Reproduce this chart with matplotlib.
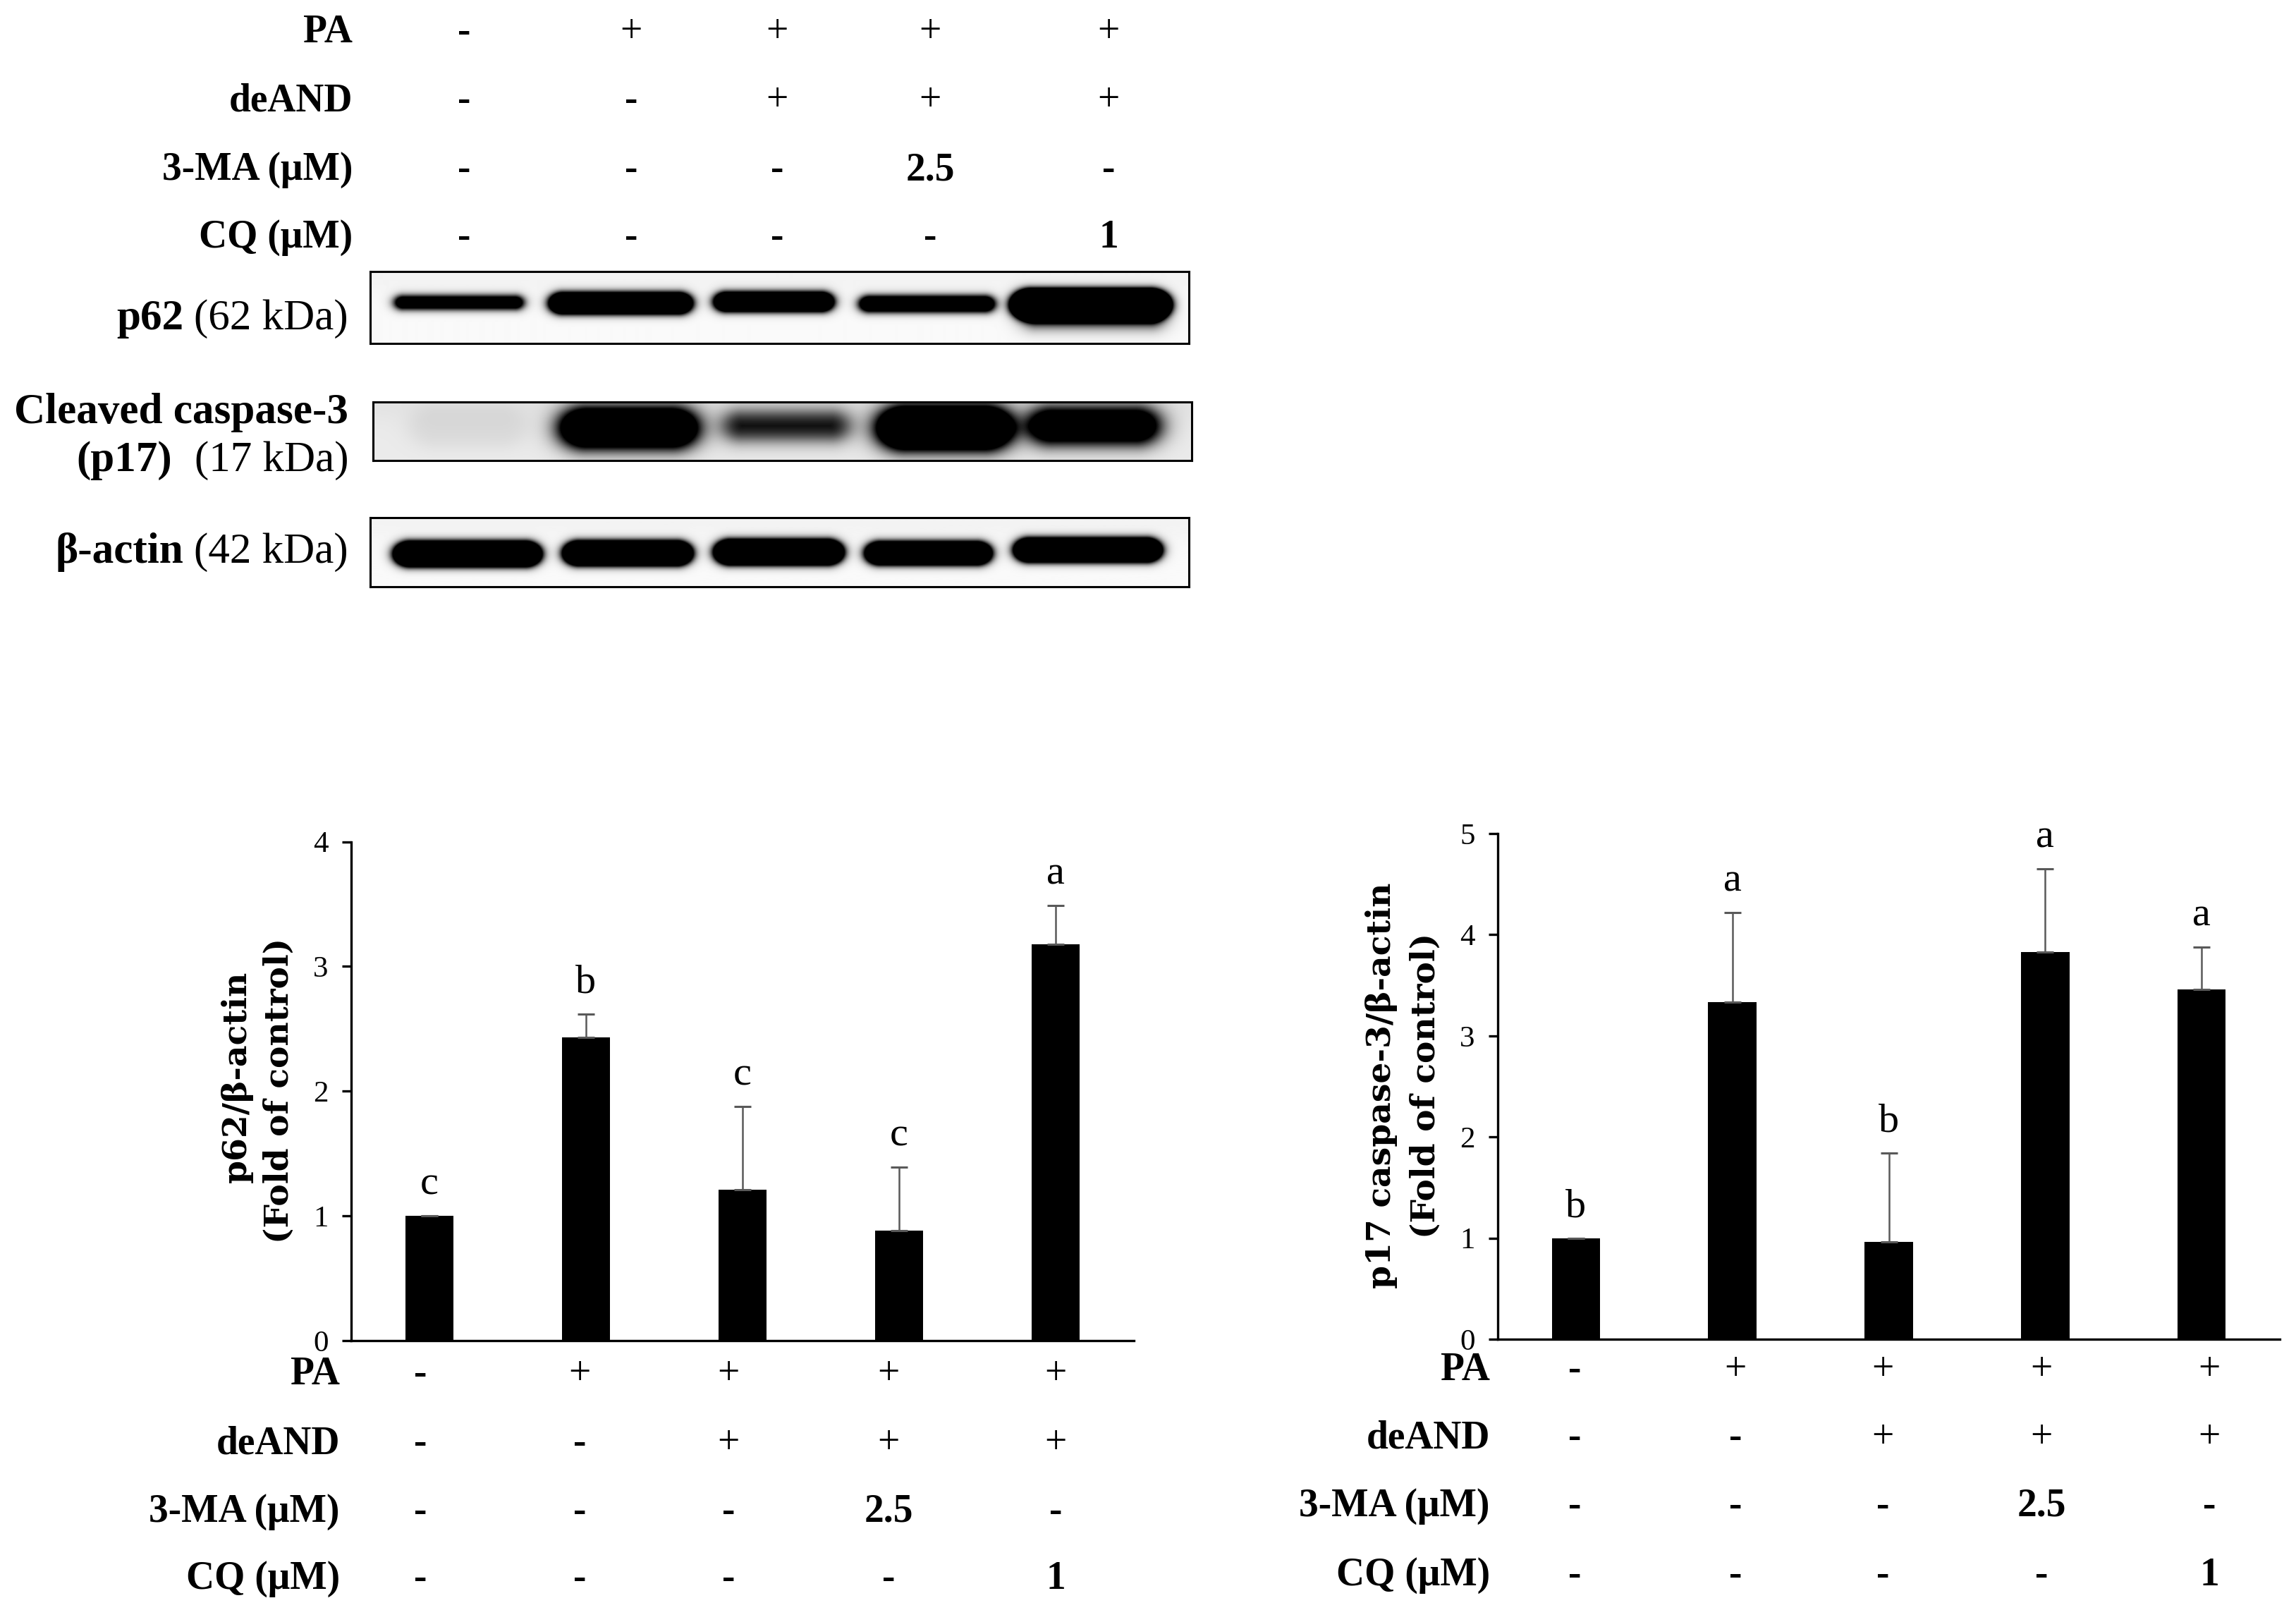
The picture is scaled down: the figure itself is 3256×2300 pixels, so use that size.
import numpy as np
import matplotlib
matplotlib.use("Agg")
import matplotlib.pyplot as plt

# ---------------- data ----------------
PA = ['-', '+', '+', '+', '+']
deAND = ['-', '-', '+', '+', '+']
MA3 = ['-', '-', '-', '2.5', '-']
CQ = ['-', '-', '-', '-', '1']
row_labels = ['PA', 'deAND', '3-MA (\u03bcM)', 'CQ (\u03bcM)']

p62_mean = [1.00, 2.43, 1.21, 0.88, 3.18]
p62_sd = [0.00, 0.19, 0.67, 0.51, 0.31]
p62_letters = ['c', 'b', 'c', 'c', 'a']

p17_mean = [1.00, 3.33, 0.96, 3.83, 3.46]
p17_sd = [0.00, 0.89, 0.88, 0.82, 0.42]
p17_letters = ['b', 'a', 'b', 'a', 'a']

# relative band intensities on the blot (arbitrary units)
p62_band = [1.6, 2.0, 2.0, 1.7, 2.5]
casp_band = [0.07, 1.7, 0.9, 1.9, 1.45]
actin_band = [2.2, 2.2, 2.2, 2.1, 2.2]

# ---------------- layout helpers ----------------
W, H = 3256, 2300
fig = plt.figure(figsize=(W / 200, H / 200), dpi=200)
SERIF = ['Liberation Serif', 'DejaVu Serif']


def fx(x):
    return x / W


def fy(y):
    return 1 - y / H


renderer = fig.canvas.get_renderer()


def mixed(x_right, y_base, parts, size, gap):
    """parts from left to right: (text, weight); right aligned at x_right."""
    x = x_right
    for txt, wt in reversed(parts):
        t = fig.text(fx(x), fy(y_base), txt, ha='right', va='baseline',
                     fontsize=size, fontweight=wt, family=SERIF)
        bb = t.get_window_extent(renderer)
        x = bb.x0 * W / fig.bbox.width - gap


def table(label_right, xs, baselines, size=20):
    rows = [PA, deAND, MA3, CQ]
    for lab, vals, yb in zip(row_labels, rows, baselines):
        fig.text(fx(label_right), fy(yb), lab, ha='right', va='baseline',
                 fontsize=size, fontweight='bold', family=SERIF)
        for xv, v in zip(xs, vals):
            wt = 'normal' if v == '+' else 'bold'
            fig.text(fx(xv), fy(yb), v, ha='center', va='baseline',
                     fontsize=size, fontweight=wt, family=SERIF)


# ---------------- top treatment table ----------------
table(500, [658, 895, 1102, 1319, 1572], [60, 157, 255, 351])


# ---------------- blots ----------------
END = 1.35  # elongation of the rounded band ends


def stadium_sdf(X, Y, cx, cy, hw, hh):
    core = max(hw - END * hh, 0)
    qx = (np.abs(X - cx) - core) / END
    qy = np.abs(Y - cy)
    d_end = np.hypot(np.maximum(qx, 0), qy) - hh
    d_mid = qy - hh
    return np.where(qx > 0, d_end, d_mid)


def blot(box, cxs, cys, ws, hs, amps, soft, bg, extra=None):
    x0, x1, y0, y1 = box
    w, h = int(x1 - x0), int(y1 - y0)
    X, Y = np.meshgrid(np.arange(w) + 0.5 + x0, np.arange(h) + 0.5 + y0)
    # faint vertical gradient in the background
    dark = bg + 0.03 * np.exp(-((Y - y0) / (0.35 * h)) ** 2)
    items = [(cx, cy, bw, bh, a, soft) for cx, cy, bw, bh, a in
             zip(cxs, cys, ws, hs, amps)]
    if extra:
        items += extra
    for cx, cy, bw, bh, a, s in items:
        d = stadium_sdf(X, Y, cx, cy, bw / 2, bh / 2)
        dark += a / (1 + np.exp(d / s))
    dark = np.clip(dark, 0, 1)
    ax = fig.add_axes([fx(x0), fy(y1), (x1 - x0) / W, (y1 - y0) / H])
    ax.imshow(dark, cmap='gray_r', vmin=0, vmax=1, aspect='auto',
              interpolation='bilinear', extent=(0, w, h, 0))
    ax.set_xticks([])
    ax.set_yticks([])
    for sp in ax.spines.values():
        sp.set_linewidth(1.1)
        sp.set_color('black')
    return ax


blot((525, 1686, 385, 487),
     [651, 880, 1097, 1314, 1546], [429, 430, 428, 431, 432],
     [182, 204, 170, 192, 228], [18, 30, 27, 22, 44],
     p62_band, 3.0, 0.02,
     extra=[(1550, 452, 190, 22, 0.35 * p62_band[4], 6.0)])
blot((529, 1690, 570, 653),
     [664, 892, 1115, 1340, 1551], [605, 607, 604, 607, 604],
     [166, 196, 176, 192, 186], [56, 56, 38, 60, 50],
     casp_band, 7.0, 0.08)
blot((525, 1686, 734, 832),
     [663, 890, 1104, 1316, 1542], [786, 785, 783.5, 785, 780.5],
     [210, 184, 184, 180, 210], [35, 34, 35, 32, 33],
     actin_band, 3.0, 0.02)

mixed(494, 467, [('p62', 'bold'), ('(62 kDa)', 'normal')], 22, 15)
fig.text(fx(494), fy(600), 'Cleaved caspase-3', ha='right', va='baseline',
         fontsize=22, fontweight='bold', family=SERIF)
mixed(494, 668, [('(p17)', 'bold'), ('(17 kDa)', 'normal')], 22, 32)
mixed(494, 798, [('\u03b2-actin', 'bold'), ('(42 kDa)', 'normal')], 22, 15)


# ---------------- bar charts ----------------
def bars(rect, means, sds, letters, ymax):
    x0, x1, ytop, ybot = rect
    ax = fig.add_axes([fx(x0), fy(ybot), (x1 - x0) / W, (ybot - ytop) / H])
    xs = np.arange(len(means))
    ax.bar(xs, means, width=0.31, color='black', zorder=2)
    ax.errorbar(xs, means, yerr=[np.zeros(len(sds)), sds], fmt='none',
                ecolor='#595959', elinewidth=0.9, capsize=4.2, capthick=1.1,
                zorder=3)
    for xv, m, s, l in zip(xs, means, sds, letters):
        ax.annotate(l, (xv, m + s), xytext=(0, 16), textcoords='offset points',
                    ha='center', va='center', fontsize=21, family=SERIF)
    ax.set_xlim(-0.5, 4.5)
    ax.set_ylim(0, ymax)
    ax.set_yticks(range(ymax + 1))
    ax.set_xticks([])
    for sp in ['top', 'right']:
        ax.spines[sp].set_visible(False)
    for sp in ['left', 'bottom']:
        ax.spines[sp].set_linewidth(1.2)
    ax.tick_params(axis='y', direction='out', length=4.7, width=1.2, pad=7,
                   labelsize=15.5)
    for t in ax.get_yticklabels():
        t.set_family(SERIF)
    ax.patch.set_alpha(0)
    return ax


bars((498, 1608, 1193.6, 1901), p62_mean, p62_sd, p62_letters, 4)
bars((2124, 3233, 1182, 1899), p17_mean, p17_sd, p17_letters, 5)

YL = dict(rotation=90, ha='center', va='center', fontsize=17,
          fontweight='bold', family=['DejaVu Serif'])
fig.text(fx(336), fy(1527), 'p62/\u03b2-actin', **YL)
fig.text(fx(396), fy(1546), '(Fold of control)', **YL)
fig.text(fx(1959), fy(1539), 'p17 caspase-3/\u03b2-actin', **YL)
fig.text(fx(2022), fy(1539), '(Fold of control)', **YL)

# ---------------- bottom treatment tables ----------------
table(482, [596, 822, 1033, 1260, 1497], [1963, 2061, 2158, 2253])
table(2113, [2233, 2461, 2670, 2895, 3133], [1957, 2053, 2150, 2248])

fig.savefig('out.png', dpi=200, facecolor='white')
